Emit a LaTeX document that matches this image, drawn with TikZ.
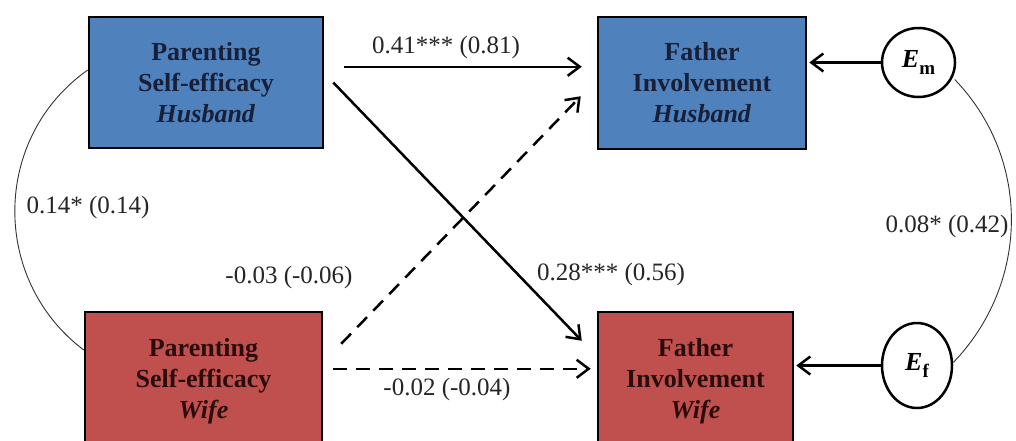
\documentclass[tikz,border=0pt]{standalone}
\usepackage{fontspec}
\setmainfont{Liberation Serif}
\usetikzlibrary{arrows.meta,calc,shapes.geometric}
\definecolor{boxblue}{HTML}{4F81BD}
\definecolor{boxred}{HTML}{C0504D}
\definecolor{txtblue}{HTML}{172038}
\definecolor{txtred}{HTML}{2A0C0C}
\definecolor{lbltext}{HTML}{262626}
\tikzset{
  varbox/.style={draw=black, line width=2.5pt, inner sep=0pt, align=center,
    font=\fontsize{26}{31}\selectfont\bfseries},
  husbox/.style={varbox, fill=boxblue, text=txtblue},
  wifbox/.style={varbox, fill=boxred, text=txtred},
  errnode/.style={draw=black, line width=2.5pt, fill=white, ellipse, inner sep=0pt,
    font=\fontsize{26}{30}\selectfont},
  lbl/.style={inner sep=0pt, text=lbltext, font=\fontsize{25}{30}\selectfont},
  path/.style={draw=black, line width=2.5pt, -{Straight Barb[length=12pt,width=18pt,line width=2.5pt]}},
  dpath/.style={path, dash pattern=on 14pt off 9pt},
  cov/.style={draw=black!80, line width=0.9pt},
}
\newcommand{\errlab}[1]{\textbf{\textit{E}}\raisebox{-0.3em}{\fontsize{19}{19}\selectfont\bfseries #1}}
\begin{document}
\begin{tikzpicture}[x=1pt,y=-1pt]
\useasboundingbox (0,0) rectangle (1016,440);
\clip (0,0) rectangle (1016,440);
\fill[white] (0,0) rectangle (1016,440);

\node[husbox, minimum width=234pt, minimum height=131pt] (A) at (206,82.5)
  {Parenting\\Self-efficacy\\\textit{Husband}};
\node[husbox, minimum width=208pt, minimum height=132pt] (B) at (702,83)
  {Father\\Involvement\\\textit{Husband}};
\node[wifbox, minimum width=237pt, minimum height=138pt] (C) at (203.5,381)
  {Parenting\\Self-efficacy\\\textit{Wife}};
\node[wifbox, minimum width=195pt, minimum height=138pt] (D) at (695.5,381)
  {Father\\Involvement\\\textit{Wife}};

\node[errnode, minimum width=73pt, minimum height=69pt] (Em) at (918.5,62.5) {\errlab{m}};
\node[errnode, minimum width=70pt, minimum height=85pt] (Ef) at (917,365.5) {\errlab{f}};

% structural paths
\draw[path] ($(A.north east)+(20,51)$) -- ($(B.north west)+(-15,51)$);
\draw[path] ($(A.east)+(9,0)$) -- ($(D.north west)+(-15,30)$);
\draw[dpath] ($(C.north east)+(18,33)$) -- ($(B.south west)+(-16,-54)$);
\draw[dpath] ($(C.north east)+(10,58)$) -- ($(D.north west)+(-6,58)$);
\draw[path] (Em.west) -- ($(B.east |- Em.west)+(2,0)$);
\draw[path] (Ef.west) -- ($(D.east |- Ef.west)+(2,0)$);

% covariances
\draw[cov] ($(A.west)+(0,-12.5)$) .. controls (-8,137.5) and (-9.6,279.5) .. ($(C.west)+(0,-31)$);
\draw[cov] ($(Em.east)+(-1.5,17)$) .. controls (1032,160) and (1029,284) .. ($(Ef.east)+(0,-3)$);

% labels
\node[lbl] (l1) at (446,47) {0.41*** (0.81)};
\node[lbl] (l2) at (88,207) {0.14* (0.14)};
\node[lbl] (l3) at (289,277) {-0.03 (-0.06)};
\node[lbl] (l4) at (611,274) {0.28*** (0.56)};
\node[lbl] (l5) at (447,389) {-0.02 (-0.04)};
\node[lbl] (l6) at (947,226) {0.08* (0.42)};
\end{tikzpicture}
\end{document}
